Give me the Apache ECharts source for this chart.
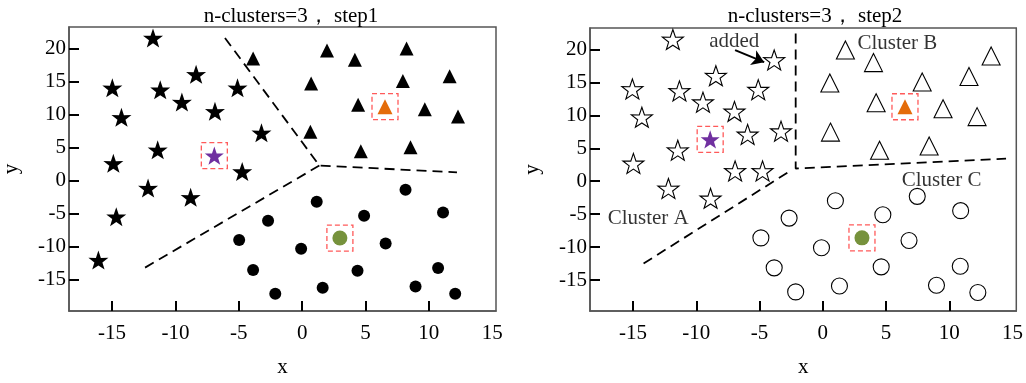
<!DOCTYPE html>
<html><head><meta charset="utf-8">
<script src="https://cdn.jsdelivr.net/npm/echarts@6/dist/echarts.min.js"></script>
<style>html,body{margin:0;padding:0;background:#fff}#c{width:1026px;height:383px}</style>
</head><body><div id="c"></div>
<script>
// ---- data ----
const xTickValues = [-15, -10, -5, 0, 5, 10];
const xLabelValues = [-15, -10, -5, 0, 5, 10, 15];
const yTickValues = [-15, -10, -5, 0, 5, 10, 15, 20];

// step 1
const step1Stars = [[-11.77,21.6],[-14.98,14.06],[-11.2,13.76],[-8.37,16.1],[-9.49,11.9],[-6.88,10.5],[-5.1,14.06],[-14.26,9.6],[-11.4,4.67],[-14.9,2.64],[-12.16,-1.1],[-8.8,-2.5],[-14.67,-5.44],[-16.08,-12.0],[-4.73,1.4],[-3.21,7.24]];
const step1Triangles = [[-3.87,18.5],[1.96,19.7],[4.16,18.3],[8.24,20.0],[0.71,14.7],[7.95,15.1],[11.64,15.8],[4.42,11.5],[9.68,10.8],[12.3,9.7],[0.65,7.4],[4.63,4.45],[8.55,5.06]];
const step1Circles = [[-4.97,-8.97],[-3.87,-13.5],[-2.69,-6.05],[8.16,-1.35],[1.15,-3.17],[4.89,-5.29],[11.12,-4.79],[6.59,-9.48],[-0.08,-10.3],[4.37,-13.6],[10.73,-13.2],[1.62,-16.2],[-2.12,-17.1],[8.95,-16.0],[12.08,-17.1]];
const step1CentroidStar = [[-6.93,3.8]];
const step1CentroidTriangle = [[6.54,11.2]];
const step1CentroidCircle = [[2.98,-8.67]];
const step1BoundaryUpper = [[-6.09,21.6],[1.36,2.3],[12.22,1.27]];
const step1BoundaryLower = [[1.36,2.3],[-12.63,-13.4]];

// step 2
const step2Stars = [[-11.85,21.5],[-15.05,14.0],[-11.33,13.7],[-8.45,16.0],[-9.47,12.0],[-6.98,10.6],[-5.1,13.9],[-14.3,9.7],[-11.46,4.7],[-14.97,2.7],[-12.2,-1.1],[-8.87,-2.6],[-6.93,1.56],[-4.76,1.56],[-5.94,7.1],[-3.3,7.6],[-3.84,18.4]];
const step2Triangles = [[1.79,19.9],[4.01,18.0],[13.31,19.0],[0.56,14.9],[7.86,15.05],[11.56,15.9],[4.22,11.9],[9.51,11.0],[12.2,9.8],[0.61,7.45],[4.49,4.7],[8.41,5.35]];
const step2Circles = [[-4.89,-8.6],[-3.84,-13.15],[7.47,-2.3],[1.0,-2.96],[4.75,-5.1],[10.9,-4.47],[-2.66,-5.6],[6.82,-9.0],[-0.1,-10.1],[4.62,-13.0],[10.87,-12.9],[1.32,-15.9],[-2.14,-16.8],[8.99,-15.8],[12.26,-16.9]];
const step2CentroidStar = [[-8.9,6.35]];
const step2CentroidTriangle = [[6.5,11.3]];
const step2CentroidCircle = [[3.1,-8.6]];
const step2BoundaryUpper = [[-2.14,22.4],[-2.14,1.93],[14.49,3.43]];
const step2BoundaryLower = [[-2.8,1.28],[-14.39,-12.76]];
const step2ArrowFromTo = [[-6.93,19.9],[-4.63,18.07]];
const step2Notes = [
  {name:'added', value:[-7.0,21.2]},
  {name:'Cluster A', value:[-13.8,-5.7]},
  {name:'Cluster B', value:[5.9,20.9]},
  {name:'Cluster C', value:[9.4,0.06]}
];
const titles = ['n-clusters=3， step1', 'n-clusters=3， step2'];

// ---- styling / build ----
const FONT = "'Liberation Serif','Times New Roman',serif";
const STAR = 'path://M50,0 L61.8,35.1 L97.6,34.5 L69.1,56.7 L79.4,90.5 L50,71 L20.6,90.5 L30.9,56.7 L2.4,34.5 L38.2,35.1 Z';
const PURPLE = '#7030a0', ORANGE = '#e46c0a', GREEN = '#76923c', BOXRED = '#ff5a5a';
const X_MIN = -18.4, X_MAX = 15.3, Y_MIN = -19.7, Y_MAX = 23.25;

function xAxis(gi){
  return {type:'value', gridIndex:gi, min:X_MIN, max:X_MAX,
    name:'x', nameLocation:'middle', nameGap:46,
    nameTextStyle:{fontFamily:FONT, fontSize:21, color:'#000'},
    splitLine:{show:false},
    axisLine:{show:true, onZero:false, lineStyle:{color:'#555', width:1.5}},
    axisTick:{show:true, inside:true, length:10, lineStyle:{color:'#000', width:2}, customValues:xTickValues},
    axisLabel:{fontFamily:FONT, fontSize:21, color:'#000', margin:12, customValues:xLabelValues, showMaxLabel:true}
  };
}
function yAxis(gi){
  return {type:'value', gridIndex:gi, min:Y_MIN, max:Y_MAX,
    name:'y', nameLocation:'middle', nameGap:47, nameRotate:90,
    nameTextStyle:{fontFamily:FONT, fontSize:21, color:'#000'},
    splitLine:{show:false},
    axisLine:{show:true, onZero:false, lineStyle:{color:'#555', width:1.5}},
    axisTick:{show:true, inside:true, length:10, lineStyle:{color:'#000', width:2}, customValues:yTickValues},
    axisLabel:{fontFamily:FONT, fontSize:21, color:'#000', margin:3, customValues:yTickValues}
  };
}
function pts(gi, data, symbol, size, style, z){
  return {type:'scatter', xAxisIndex:gi, yAxisIndex:gi, data:data, symbol:symbol, symbolSize:size,
    symbolKeepAspect:true, itemStyle:Object.assign({opacity:1}, style), z:z||2, silent:true};
}
function dash(gi, data){
  return {type:'line', xAxisIndex:gi, yAxisIndex:gi, data:data, symbol:'none', silent:true,
    lineStyle:{color:'#000', width:1.8, type:[10,6]}, z:1};
}
function box(gi, data){
  return pts(gi, data, 'rect', 26, {color:'rgba(0,0,0,0)', borderColor:BOXRED, borderWidth:1.3, borderType:[5,3]}, 4);
}
const filled = {color:'#000'};
const hollow = {color:'#fff', borderColor:'#000', borderWidth:1.1};

const series = [
  dash(0, step1BoundaryUpper), dash(0, step1BoundaryLower),
  pts(0, step1Stars, STAR, 20, filled),
  pts(0, step1Triangles, 'triangle', 14, filled),
  pts(0, step1Circles, 'circle', 12, filled),
  box(0, step1CentroidStar), box(0, step1CentroidTriangle), box(0, step1CentroidCircle),
  pts(0, step1CentroidStar, STAR, 19, {color:PURPLE}, 5),
  pts(0, step1CentroidTriangle, 'triangle', 15, {color:ORANGE}, 5),
  pts(0, step1CentroidCircle, 'circle', 15, {color:GREEN}, 5),

  dash(1, step2BoundaryUpper), dash(1, step2BoundaryLower),
  pts(1, step2Stars, STAR, 21, hollow),
  pts(1, step2Triangles, 'triangle', 18, hollow),
  pts(1, step2Circles, 'circle', 16, hollow),
  box(1, step2CentroidStar), box(1, step2CentroidTriangle), box(1, step2CentroidCircle),
  pts(1, step2CentroidStar, STAR, 19, {color:PURPLE}, 5),
  pts(1, step2CentroidTriangle, 'triangle', 15, {color:ORANGE}, 5),
  pts(1, step2CentroidCircle, 'circle', 15, {color:GREEN}, 5),
  {type:'lines', coordinateSystem:'cartesian2d', xAxisIndex:1, yAxisIndex:1, silent:true,
    symbol:['none','arrow'], symbolSize:[0,12],
    lineStyle:{color:'#000', width:2, opacity:1},
    data:[{coords:step2ArrowFromTo}], z:6},
  {type:'scatter', xAxisIndex:1, yAxisIndex:1, silent:true, data:step2Notes, symbolSize:1,
    itemStyle:{color:'rgba(0,0,0,0)'}, z:6,
    label:{show:true, position:'inside', formatter:p=>p.name, fontFamily:FONT, fontSize:21, color:'#000'}}
];

const chart = echarts.init(document.getElementById('c'), null, {renderer:'canvas'});
chart.setOption({
  animation:false,
  backgroundColor:'#fff',
  title:[
    {text:titles[0], left:286, top:1, textAlign:'center', textStyle:{fontFamily:FONT, fontSize:21, fontWeight:'normal', color:'#000'}},
    {text:titles[1], left:810, top:1, textAlign:'center', textStyle:{fontFamily:FONT, fontSize:21, fontWeight:'normal', color:'#000'}}
  ],
  grid:[
    {left:67, top:27, width:429, height:285, show:true, borderColor:'#555', borderWidth:1.5, backgroundColor:'transparent'},
    {left:590, top:28, width:429, height:285, show:true, borderColor:'#555', borderWidth:1.5, backgroundColor:'transparent'}
  ],
  xAxis:[xAxis(0), xAxis(1)],
  yAxis:[yAxis(0), yAxis(1)],
  series:series
});
</script>
</body></html>
